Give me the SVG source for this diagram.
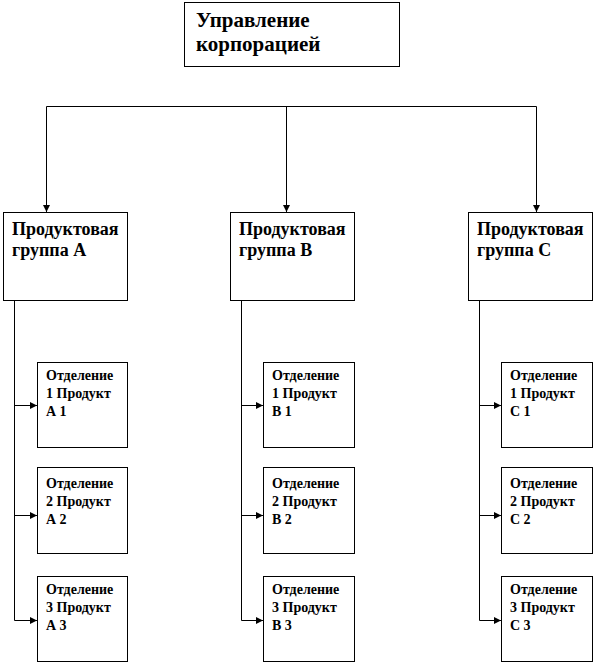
<svg xmlns="http://www.w3.org/2000/svg" width="596" height="665" viewBox="0 0 596 665">
<style>
.box{fill:#fff;stroke:#000;stroke-width:1}
.ln{fill:none;stroke:#000;stroke-width:1}
.t1{font-family:"Liberation Serif",serif;font-weight:bold;font-size:21px}
.t2{font-family:"Liberation Serif",serif;font-size:18px;font-weight:bold}
.t3{font-family:"Liberation Serif",serif;font-weight:bold;font-size:14px}
</style>
<defs>
<marker id="ah" markerWidth="8" markerHeight="8" refX="7" refY="4" orient="auto" markerUnits="userSpaceOnUse">
<path d="M0,0.5 L7,4 L0,7.5 Z" fill="#000"/>
</marker>
</defs>
<g id="connectors">
<path class="ln" d="M46.5,106.5 H536.5"/>
<path class="ln" d="M46.5,106.5 V212" marker-end="url(#ah)"/>
<path class="ln" d="M286.5,106.5 V212" marker-end="url(#ah)"/>
<path class="ln" d="M536.5,106.5 V212" marker-end="url(#ah)"/>
<path class="ln" d="M14.5,300 V620.5 H37" marker-end="url(#ah)"/>
<path class="ln" d="M14.5,405.5 H37" marker-end="url(#ah)"/>
<path class="ln" d="M14.5,515.5 H37" marker-end="url(#ah)"/>
<path class="ln" d="M241.5,300 V620.5 H263" marker-end="url(#ah)"/>
<path class="ln" d="M241.5,405.5 H263" marker-end="url(#ah)"/>
<path class="ln" d="M241.5,515.5 H263" marker-end="url(#ah)"/>
<path class="ln" d="M479.5,300 V620.5 H501" marker-end="url(#ah)"/>
<path class="ln" d="M479.5,405.5 H501" marker-end="url(#ah)"/>
<path class="ln" d="M479.5,515.5 H501" marker-end="url(#ah)"/>
</g>
<g id="top">
<rect class="box" x="184.5" y="2.5" width="215" height="64"/>
<text class="t1" x="196" y="27">Управление</text>
<text class="t1" x="196" y="51">корпорацией</text>
</g>
<g id="groupA">
<rect class="box" x="3.5" y="212.5" width="124" height="88"/>
<text class="t2" x="12" y="235">Продуктовая</text>
<text class="t2" x="12" y="256">группа А</text>
</g>
<g id="groupB">
<rect class="box" x="230.5" y="212.5" width="124" height="88"/>
<text class="t2" x="239" y="235">Продуктовая</text>
<text class="t2" x="239" y="256">группа В</text>
</g>
<g id="groupC">
<rect class="box" x="468.5" y="212.5" width="124" height="88"/>
<text class="t2" x="477" y="235">Продуктовая</text>
<text class="t2" x="477" y="256">группа С</text>
</g>
<g id="A1"><rect class="box" x="37.5" y="362.5" width="90" height="85"/><text class="t3" x="46" y="380">Отделение</text><text class="t3" x="46" y="398">1 Продукт</text><text class="t3" x="46" y="416">А 1</text></g>
<g id="A2"><rect class="box" x="37.5" y="467.5" width="90" height="86"/><text class="t3" x="46" y="488">Отделение</text><text class="t3" x="46" y="506">2 Продукт</text><text class="t3" x="46" y="524">А 2</text></g>
<g id="A3"><rect class="box" x="37.5" y="576.5" width="90" height="85"/><text class="t3" x="46" y="594">Отделение</text><text class="t3" x="46" y="612">3 Продукт</text><text class="t3" x="46" y="630">А 3</text></g>
<g id="B1"><rect class="box" x="263.5" y="362.5" width="91" height="85"/><text class="t3" x="272" y="380">Отделение</text><text class="t3" x="272" y="398">1 Продукт</text><text class="t3" x="272" y="416">В 1</text></g>
<g id="B2"><rect class="box" x="263.5" y="467.5" width="91" height="86"/><text class="t3" x="272" y="488">Отделение</text><text class="t3" x="272" y="506">2 Продукт</text><text class="t3" x="272" y="524">В 2</text></g>
<g id="B3"><rect class="box" x="263.5" y="576.5" width="91" height="85"/><text class="t3" x="272" y="594">Отделение</text><text class="t3" x="272" y="612">3 Продукт</text><text class="t3" x="272" y="630">В 3</text></g>
<g id="C1"><rect class="box" x="501.5" y="362.5" width="91" height="85"/><text class="t3" x="510" y="380">Отделение</text><text class="t3" x="510" y="398">1 Продукт</text><text class="t3" x="510" y="416">С 1</text></g>
<g id="C2"><rect class="box" x="501.5" y="467.5" width="91" height="86"/><text class="t3" x="510" y="488">Отделение</text><text class="t3" x="510" y="506">2 Продукт</text><text class="t3" x="510" y="524">С 2</text></g>
<g id="C3"><rect class="box" x="501.5" y="576.5" width="91" height="85"/><text class="t3" x="510" y="594">Отделение</text><text class="t3" x="510" y="612">3 Продукт</text><text class="t3" x="510" y="630">С 3</text></g>
</svg>
